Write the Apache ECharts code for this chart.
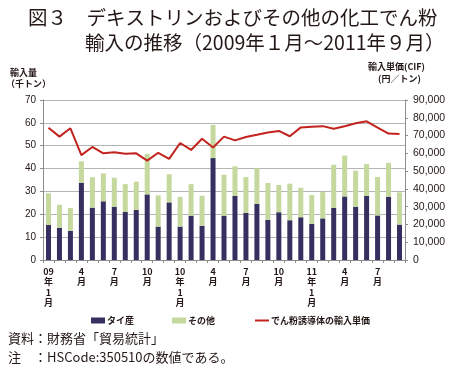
<!DOCTYPE html>
<html><head><meta charset="utf-8">
<script src="https://cdn.jsdelivr.net/npm/echarts@6/dist/echarts.min.js"></script>
<style>html,body{margin:0;padding:0;background:#fff}#c{width:450px;height:371px}</style>
</head><body><div id="c"></div>
<script>
const categories = ["09年1月","2","3","4月","5","6","7月","8","9","10月","11","12",
  "10年1月","2","3","4月","5","6","7月","8","9","10月","11","12",
  "11年1月","2","3","4月","5","6","7月","8","9"];
const tickLabels = {0:"09年1月",3:"4月",6:"7月",9:"10月",12:"10年1月",15:"4月",18:"7月",21:"10月",24:"11年1月",27:"4月",30:"7月"};
const thai = [15.3,14.1,12.7,33.8,22.9,25.7,23.3,21.0,21.9,28.7,14.6,25.2,14.6,19.4,15.0,44.6,19.4,28.0,20.6,24.5,17.6,20.9,17.4,18.7,15.8,18.2,22.8,27.8,23.3,28.0,19.5,27.7,15.5];
const other = [13.9,10.1,10.0,9.4,13.3,12.2,12.7,12.2,12.4,17.7,13.7,12.3,13.0,13.8,13.1,14.5,17.9,13.0,15.7,15.6,16.1,11.9,16.0,12.9,12.6,11.5,18.9,17.9,15.8,14.0,16.8,14.8,14.1];
const price = [74400,69400,74100,59000,63600,60000,60600,59800,60000,55900,60300,56900,65800,61900,68200,63300,69400,67300,69200,70400,71700,72600,69600,74600,75000,75300,73800,75200,76900,78000,74500,71100,70900];
const seriesNames = ["タイ産","その他","でん粉誘導体の輸入単価"];

const chart = echarts.init(document.getElementById('c'), null, {renderer:'canvas'});
const F = "'Noto Sans CJK JP', sans-serif";
const legendText = {fontFamily:F,fontSize:9,fontWeight:'bold',color:'#231815',padding:[0,0,0,-3]};
chart.setOption({
  animation:false,
  textStyle:{fontFamily:F},
  title:[
    {text:"図３　デキストリンおよびその他の化工でん粉", left:28, top:8, padding:0,
     textStyle:{fontFamily:F,fontSize:19.5,fontWeight:'normal',color:'#231815',lineHeight:20}},
    {text:"輸入の推移（2009年１月～2011年９月）", left:85, top:33, padding:0,
     textStyle:{fontFamily:F,fontSize:19.5,fontWeight:'normal',color:'#231815',lineHeight:20}},
    {text:"資料：財務省「貿易統計」", left:8, top:331, padding:0,
     textStyle:{fontFamily:F,fontSize:13,fontWeight:'normal',color:'#231815',lineHeight:14}},
    {text:"注　：HSCode:350510の数値である。", left:8, top:350, padding:0,
     textStyle:{fontFamily:F,fontSize:13,fontWeight:'normal',color:'#231815',lineHeight:14}}
  ],
  graphic:[
    {type:'text', left:10, top:68, style:{text:"輸入量", font:"bold 9px "+F, fill:'#231815'}},
    {type:'text', left:6, top:79, style:{text:"（千トン）", font:"bold 9px "+F, fill:'#231815'}},
    {type:'text', left:368, top:62, style:{text:"輸入単価(CIF)", font:"bold 9px "+F, fill:'#231815'}},
    {type:'text', left:378, top:74, style:{text:"(円／トン)", font:"bold 9px "+F, fill:'#231815'}}
  ],
  legend:[
    {left:86, top:311, itemWidth:14, itemHeight:6, textStyle:legendText,
     data:[{name:seriesNames[0], icon:'rect'}]},
    {left:167, top:311, itemWidth:14, itemHeight:6, textStyle:legendText,
     data:[{name:seriesNames[1], icon:'rect'}]},
    {left:250, top:311, itemWidth:14, itemHeight:2, textStyle:legendText,
     data:[{name:seriesNames[2], icon:'rect', itemStyle:{color:'#c3231f'}}]}
  ],
  grid:{left:43, right:45, top:100, bottom:111, containLabel:false},
  xAxis:{
    type:'category', data:categories, boundaryGap:true,
    axisLine:{lineStyle:{color:'#8c8c8c',width:1}},
    axisTick:{show:true, interval:0, length:3, lineStyle:{color:'#8c8c8c'}},
    axisLabel:{interval:0, margin:6, fontFamily:F, fontSize:9, fontWeight:'bold', color:'#231815', lineHeight:10.5,
      formatter:(v,i)=> tickLabels[i] ? tickLabels[i].replace(/^(\d+)年/, '$1\n年\n').replace(/^(\d+)月$/,'$1\n月').replace(/\n(\d+)月$/,'\n$1\n月') : ''}
  },
  yAxis:[
    {type:'value', min:0, max:70, interval:10,
     axisLine:{show:true, lineStyle:{color:'#8c8c8c'}},
     axisTick:{show:true, length:3, lineStyle:{color:'#8c8c8c'}},
     splitLine:{show:true, lineStyle:{color:'#b5b5b5', width:1}},
     axisLabel:{margin:7, fontFamily:"'Liberation Sans', sans-serif", fontSize:10, color:'#231815'}},
    {type:'value', min:0, max:90000, interval:10000, position:'right',
     axisLine:{show:true, lineStyle:{color:'#8c8c8c'}},
     axisTick:{show:true, length:3, lineStyle:{color:'#8c8c8c'}},
     splitLine:{show:false},
     axisLabel:{margin:8, fontFamily:"'Liberation Sans', sans-serif", fontSize:10.5, color:'#231815',
       formatter:v=>v.toLocaleString('en-US')}}
  ],
  series:[
    {name:seriesNames[0], type:'bar', stack:'s', data:thai, barWidth:5, itemStyle:{color:'#35305f'}},
    {name:seriesNames[1], type:'bar', stack:'s', data:other, barWidth:5, itemStyle:{color:'#c5d89d'}},
    {name:seriesNames[2], type:'line', yAxisIndex:1, data:price, symbol:'none', showSymbol:false,
     lineStyle:{color:'#c3231f', width:2}, itemStyle:{color:'#c3231f'}, z:5}
  ]
});
</script></body></html>
